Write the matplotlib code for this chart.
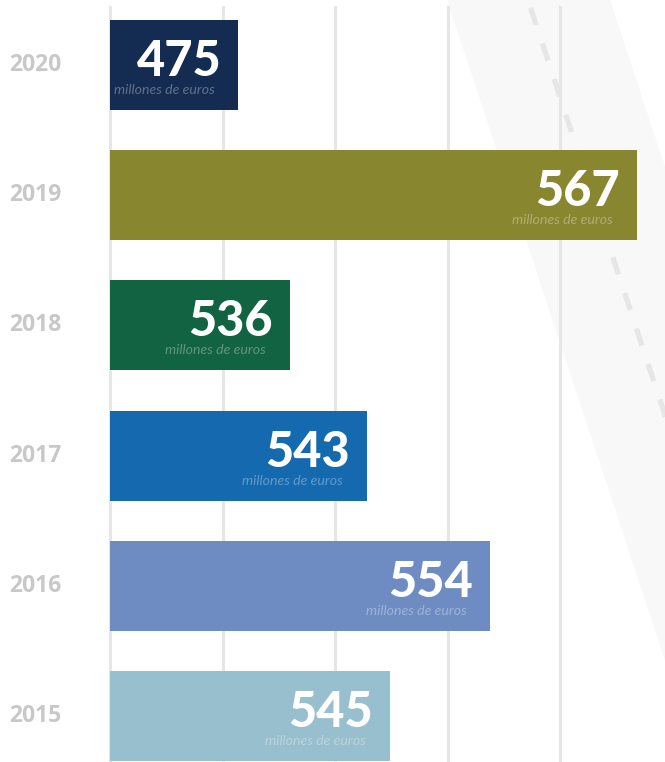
import matplotlib.pyplot as plt
from matplotlib.patches import Polygon

plt.rcParams['lines.scale_dashes'] = False

years = ['2015', '2016', '2017', '2018', '2019', '2020']
values = [545, 554, 543, 536, 567, 475]
# bar lengths as drawn in the picture, in grid units
lengths = [2.49, 3.38, 2.28, 1.60, 4.68, 1.14]
colors = ['#97bfcd', '#6e8cc2', '#1569af', '#116341', '#898630', '#142b52']
unit_label = 'millones de euros'

W, H = 665, 762
fig = plt.figure(figsize=(W / 100, H / 100), dpi=100)

# decorative background band with dashed line (pixel coords)
bg = fig.add_axes([0, 0, 1, 1], zorder=0)
bg.set_xlim(0, W)
bg.set_ylim(H, 0)
bg.axis('off')
slope = 0.33
band = Polygon([(447, 0), (610, 0), (610 + slope * H, H), (447 + slope * H, H)],
               closed=True, facecolor='#f8f8f8', edgecolor='none')
bg.add_patch(band)
bg.plot([528, 528 + slope * H], [0, H], color='#e6e6e6', lw=3.8,
        linestyle=(-6, (13, 14)), solid_capstyle='butt')

ax = fig.add_axes([0, 0, 1, 1], zorder=1)
ax.patch.set_alpha(0)
px_x, px_y = 112.5, 130.2
x0 = -110 / px_x
ax.set_xlim(x0, x0 + W / px_x)
ytop = 5 + 65 / px_y
ax.set_ylim(ytop - H / px_y, ytop)
ax.axis('off')

for g in range(5):
    ax.plot([g, g], [ytop - H / px_y, ytop - 7 / px_y], color='#e6e6e6', lw=2.2, zorder=1)

ypos = list(range(len(years)))
ax.barh(ypos, lengths, height=90 / px_y, left=0, color=colors, zorder=2)

for y, yr, v, L in zip(ypos, years, values, lengths):
    ax.text(x0 + 35 / px_x, y, yr, ha='center', va='center', fontsize=16.5,
            fontweight='bold', color='#c8c8c8', family='Open Sans')
    xr = L - 17 / px_x
    ax.text(xr, y - 11 / px_y, str(v), ha='right', va='baseline', fontsize=35,
            fontweight='black', color='white', family='Lato', zorder=3)
    ax.text(xr - 7 / px_x, y - 29 / px_y, unit_label, ha='right', va='baseline',
            fontsize=10.2, style='italic', color='white', alpha=0.33,
            family='Lato', zorder=3)

fig.savefig('out.png', dpi=100)
